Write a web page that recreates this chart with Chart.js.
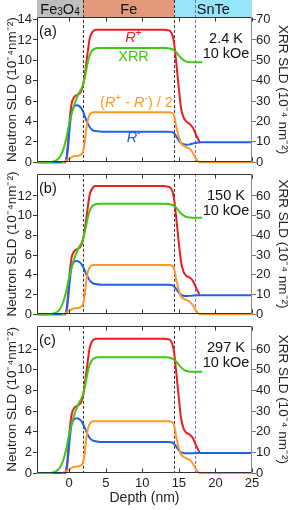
<!DOCTYPE html>
<html>
<head>
<meta charset="utf-8">
<script src="https://cdn.jsdelivr.net/npm/chart.js@4.4.1/dist/chart.umd.min.js"></script>
<style>
html, body { margin: 0; padding: 0; background: #fff; }
#wrap { position: relative; width: 293px; height: 510px; overflow: hidden; }
canvas { position: absolute; left: 0; }
</style>
</head>
<body>
<div id="wrap">
<canvas id="pa" width="293" height="171" style="top:0px"></canvas>
<canvas id="pb" width="293" height="158" style="top:165px"></canvas>
<canvas id="pc" width="293" height="193" style="top:317px"></canvas>
</div>
<script>
"use strict";

const FONT = '"Liberation Sans", Arial, Helvetica, sans-serif';
const RED = 'rgb(240, 28, 28)';
const GREEN = 'rgb(60, 200, 20)';
const BLUE = 'rgb(32, 96, 240)';
const ORANGE = 'rgb(255, 152, 40)';

// depth (nm) grids for each curve
const depthRp = [-4.4, -0.6, -0.3, -0.1, 0.1, 0.35, 0.7, 1.1, 1.5, 1.8, 2.1, 2.45, 2.8, 3.2, 3.6, 4.2,
                 13.0, 13.4, 13.9, 14.3, 14.65, 15.0, 15.3, 15.65, 16.0, 16.4, 16.9, 17.4, 17.85];
const depthRm = [-4.4, -0.5, -0.3, -0.1, 0.1, 0.3, 0.6, 1.0, 1.4, 1.75, 2.1, 2.4, 2.75, 3.2, 3.8, 4.5,
                 13.0, 13.6, 14.1, 14.5, 14.8, 15.1, 15.5, 16.0, 16.5, 17.0, 17.5, 18.0, 25];
const depthHalf = [-1.0, -0.5, 0, 0.5, 1.0, 1.5, 1.85, 2.1, 2.35, 2.6, 2.9, 3.3, 3.8,
                   13.6, 14.0, 14.35, 14.7, 15.0, 15.3, 15.7, 16.1, 16.6, 17.0, 17.3, 17.6, 17.9, 25];
const depthXrr = [-4.4, -2.6, -2.0, -1.3, -0.8, -0.35, 0, 0.55, 1.2, 1.9, 2.3, 2.6, 3.0, 3.4, 4.0,
                  13.2, 13.8, 14.5, 15.2, 15.9, 16.8, 18.2];

// (a) 2.4 K
const rPlusA = [0, 0, 0.8, 2.5, 4.4, 5.8, 6.4, 6.6, 6.8, 7.3, 8.4, 10.3, 12.1, 12.8, 13.0, 13.0,
                13.0, 12.95, 12.8, 11.9, 9.7, 7.2, 5.3, 4.4, 4.0, 3.8, 3.4, 2.6, 1.95];
const rMinusA = [0, 0, 0.6, 1.9, 3.6, 4.8, 5.4, 5.6, 5.5, 5.2, 4.6, 4.0, 3.5, 3.15, 3.05, 3.0,
                 3.0, 3.0, 2.95, 2.7, 2.35, 2.0, 1.8, 1.72, 1.75, 1.85, 1.92, 1.95, 1.95];
const halfA = [0, 0.1, 0.35, 0.55, 0.62, 0.7, 0.95, 1.8, 3.3, 4.3, 4.75, 4.9, 4.9,
               4.9, 4.85, 4.55, 3.3, 2.5, 1.85, 1.6, 1.45, 1.25, 0.8, 0.4, 0.12, 0, 0];
const xrrA = [0, 0, 0.5, 2.4, 6.3, 12.5, 18.8, 26.5, 33, 38, 44.5, 50, 54, 55.5, 56,
              56, 55.8, 54.5, 51.5, 49.5, 49, 49];

// (b) 150 K
const rPlusB = [0, 0, 0.8, 2.5, 4.4, 5.8, 6.4, 6.6, 6.8, 7.3, 8.4, 10.3, 12.1, 12.8, 13.0, 13.0,
                13.0, 12.95, 12.8, 11.9, 9.7, 7.2, 5.3, 4.3, 3.9, 3.75, 3.4, 2.6, 1.95];
const rMinusB = [0, 0, 0.6, 1.9, 3.5, 4.7, 5.25, 5.4, 5.3, 5.0, 4.5, 3.95, 3.5, 3.15, 3.05, 3.0,
                 3.0, 3.0, 2.95, 2.7, 2.4, 2.1, 1.9, 1.85, 1.86, 1.9, 1.93, 1.93, 1.93];
const halfB = [0, 0.1, 0.35, 0.55, 0.62, 0.7, 0.95, 1.8, 3.4, 4.4, 4.85, 5.0, 5.0,
               5.0, 4.95, 4.6, 3.3, 2.4, 1.8, 1.55, 1.4, 1.2, 0.8, 0.4, 0.12, 0, 0];
const xrrB = [0, 0, 0.5, 2.4, 6.3, 12.5, 18.8, 26.5, 33, 38, 44.5, 50, 54, 55.5, 56,
              56, 55.8, 54.5, 51.5, 49.5, 49, 49];

// (c) 297 K
const rPlusC = [0, 0, 0.8, 2.5, 4.4, 5.7, 6.3, 6.5, 6.7, 7.2, 8.4, 10.3, 12.1, 12.8, 13.0, 13.0,
                13.0, 12.95, 12.8, 11.9, 9.7, 7.2, 5.3, 4.3, 3.9, 3.75, 3.4, 2.6, 1.95];
const rMinusC = [0, 0, 0.6, 1.9, 3.5, 4.6, 5.15, 5.3, 5.2, 4.95, 4.45, 3.9, 3.45, 3.15, 3.05, 3.0,
                 3.0, 3.0, 2.95, 2.7, 2.4, 2.1, 1.95, 1.9, 1.9, 1.92, 1.93, 1.93, 1.93];
const halfC = [0, 0.1, 0.35, 0.55, 0.62, 0.7, 0.95, 1.8, 3.4, 4.4, 4.85, 5.0, 5.0,
               5.0, 4.95, 4.6, 3.3, 2.4, 1.8, 1.55, 1.4, 1.2, 0.8, 0.4, 0.12, 0, 0];
const xrrC = [0, 0, 0.5, 2.4, 6.3, 12.5, 18.8, 26.5, 33, 38, 44.5, 50, 54, 55.5, 56,
              56, 55.8, 54.5, 51.5, 49.5, 49, 49];

const xTicks = [0, 5, 10, 15, 20, 25];
const leftTicksTop = [0, 2, 4, 6, 8, 10, 12, 14];
const leftTicks = [0, 2, 4, 6, 8, 10, 12];
const rightTicksTop = [0, 10, 20, 30, 40, 50, 60, 70];
const rightTicks = [0, 10, 20, 30, 40, 50, 60];

const layerNames = [
    [{ t: 'Fe' }, { t: '3', sub: true }, { t: 'O' }, { t: '4', sub: true }],
    [{ t: 'Fe' }],
    [{ t: 'SnTe' }]
];
const layerColors = ['rgb(190, 190, 190)', 'rgb(229, 152, 124)', 'rgb(150, 228, 250)'];
const layerEdges = [1.9, 14.4];
const snteLine = 17.2;

const panelTags = ['(a)', '(b)', '(c)'];
const temps = ['2.4 K', '150 K', '297 K'];
const field = '10 kOe';

const curveLabels = [
    { segs: [{ t: 'R', it: true }, { t: '+', sup: true }], x: 8.8, y: 12.2, color: RED },
    { segs: [{ t: 'XRR' }], x: 8.8, y: 10.3, color: GREEN },
    { segs: [{ t: '(' }, { t: 'R', it: true }, { t: '+', sup: true }, { t: ' - ' }, { t: 'R', it: true },
             { t: '-', sup: true }, { t: ') / 2' }], x: 9.2, y: 5.8, color: ORANGE },
    { segs: [{ t: 'R', it: true }, { t: '-', sup: true }], x: 8.8, y: 2.35, color: BLUE }
];


function segFont(s) {
    const size = (s.sup || s.sub) ? 10 : 14.5;
    return (s.it ? 'italic ' : '') + size + 'px ' + FONT;
}

function drawRich(ctx, segs, cx, cy, color) {
    ctx.save();
    ctx.textBaseline = 'middle';
    ctx.textAlign = 'left';
    let w = 0;
    for (const s of segs) { ctx.font = segFont(s); w += ctx.measureText(s.t).width; }
    let x = cx - w / 2;
    ctx.fillStyle = color;
    for (const s of segs) {
        ctx.font = segFont(s);
        const dy = s.sup ? -5 : (s.sub ? 3 : 0);
        ctx.fillText(s.t, x, cy + dy);
        x += ctx.measureText(s.t).width;
    }
    ctx.restore();
}

function vline(ctx, x, y0, y1, color, dash) {
    ctx.save();
    ctx.strokeStyle = color;
    ctx.lineWidth = 1;
    ctx.setLineDash(dash);
    ctx.beginPath();
    ctx.moveTo(Math.round(x) + 0.5, y0);
    ctx.lineTo(Math.round(x) + 0.5, y1);
    ctx.stroke();
    ctx.restore();
}

const decor = {
    id: 'decor',
    beforeDraw(chart, args, opts) {
        if (!opts.band) return;
        const { ctx, chartArea: a, scales: { x } } = chart;
        const edges = [a.left, x.getPixelForValue(layerEdges[0]), x.getPixelForValue(layerEdges[1]), a.right];
        for (let i = 0; i < 3; i++) {
            ctx.fillStyle = layerColors[i];
            ctx.fillRect(edges[i], 0, edges[i + 1] - edges[i], a.top);
            drawRich(ctx, layerNames[i], (edges[i] + edges[i + 1]) / 2, a.top / 2 + 1, '#111');
        }
    },
    beforeDatasetsDraw(chart, args, opts) {
        const { ctx, chartArea: a, scales: { x } } = chart;
        const top = opts.band ? 0 : a.top;
        vline(ctx, x.getPixelForValue(layerEdges[0]), top, a.bottom, '#333', [3, 2]);
        vline(ctx, x.getPixelForValue(layerEdges[1]), top, a.bottom, '#333', [3, 2]);
        vline(ctx, x.getPixelForValue(snteLine), top, a.bottom, 'rgb(125, 90, 255)', [3, 2]);
    },
    afterDatasetsDraw(chart, args, opts) {
        if (!opts.labels) return;
        const { ctx, scales: { x, y } } = chart;
        for (const l of curveLabels) {
            drawRich(ctx, l.segs, x.getPixelForValue(l.x), y.getPixelForValue(l.y), l.color);
        }
    },
    afterDraw(chart, args, opts) {
        const { ctx, chartArea: a, scales: { x } } = chart;
        const L = Math.round(a.left) + 0.5, R = Math.round(a.right) - 0.5;
        const T = Math.round(a.top) + 0.5, B = Math.round(a.bottom) - 0.5;
        ctx.save();
        ctx.lineWidth = 1;
        ctx.strokeStyle = '#333';
        ctx.beginPath();
        ctx.moveTo(R, T); ctx.lineTo(L, T); ctx.lineTo(L, B); ctx.lineTo(R, B);
        for (const v of xTicks) {
            const px = Math.round(x.getPixelForValue(v)) + 0.5;
            ctx.moveTo(px, B); ctx.lineTo(px, B - 4);
            ctx.moveTo(px, T); ctx.lineTo(px, T + 4);
        }
        ctx.stroke();
        ctx.strokeStyle = '#888';
        ctx.beginPath();
        ctx.moveTo(R, T); ctx.lineTo(R, B);
        ctx.stroke();

        ctx.fillStyle = '#111';
        ctx.font = '14.5px ' + FONT;
        ctx.textBaseline = 'middle';
        ctx.textAlign = 'left';
        ctx.fillText(opts.tag, a.left + 2, a.top + 15);
        ctx.textAlign = 'center';
        ctx.fillText(opts.temp, a.right - 26, a.top + 22);
        ctx.fillText(field, a.right - 26, a.top + 37);
        ctx.restore();
    }
};

function line(xs, ys, color, axis) {
    return {
        data: xs.map((v, i) => ({ x: v, y: ys[i] })),
        borderColor: color,
        borderWidth: 2,
        pointRadius: 0,
        cubicInterpolationMode: 'monotone',
        yAxisID: axis,
        clip: false
    };
}

function setTicks(vals) {
    return scale => { scale.ticks = vals.map(v => ({ value: v })); };
}

function buildPanel(id, idx, rPlus, rMinus, half, xrr) {
    const first = idx === 0, last = idx === 2;
    return new Chart(document.getElementById(id), {
        type: 'line',
        data: {
            datasets: [
                line(depthHalf, half, ORANGE, 'y'),
                line(depthXrr, xrr, GREEN, 'y2'),
                line(depthRm, rMinus, BLUE, 'y'),
                line(depthRp, rPlus, RED, 'y')
            ]
        },
        options: {
            responsive: false,
            animation: false,
            events: [],
            layout: { padding: { top: first ? 17 : 4, bottom: last ? 0 : 2, left: 0, right: 0 } },
            plugins: {
                legend: { display: false },
                tooltip: { enabled: false },
                decor: { band: first, labels: first, tag: panelTags[idx], temp: temps[idx] }
            },
            scales: {
                x: {
                    type: 'linear',
                    min: -4.4,
                    max: 25,
                    display: last,
                    afterBuildTicks: setTicks(xTicks),
                    afterFit: s => { s.height = last ? 37 : 0; },
                    grid: { display: false, drawTicks: false },
                    border: { display: false },
                    ticks: { padding: 3, color: '#222', font: { family: FONT, size: 13 } },
                    title: {
                        display: true, text: 'Depth (nm)', color: '#222',
                        font: { family: FONT, size: 14 }, padding: { top: 0, bottom: 3 }
                    }
                },
                y: {
                    position: 'left',
                    min: 0,
                    max: 14.25,
                    afterBuildTicks: setTicks(first ? leftTicksTop : leftTicks),
                    afterFit: s => { s.width = 37; },
                    grid: { display: true, drawOnChartArea: false, drawTicks: true, tickLength: 4, color: '#333' },
                    border: { display: false },
                    ticks: { padding: 1, color: '#222', font: { family: FONT, size: 13 } },
                    title: {
                        display: true, text: 'Neutron SLD (10⁻⁴nm⁻²)', color: '#222',
                        font: { family: FONT, size: 13.5 }, padding: { top: 4, bottom: 0 }
                    }
                },
                y2: {
                    position: 'right',
                    min: 0,
                    max: 71.25,
                    afterBuildTicks: setTicks(first ? rightTicksTop : rightTicks),
                    afterFit: s => { s.width = 41; },
                    grid: { display: true, drawOnChartArea: false, drawTicks: true, tickLength: 4, color: '#777' },
                    border: { display: false },
                    ticks: { padding: 0, color: '#222', font: { family: FONT, size: 13 } },
                    title: {
                        display: true, text: 'XRR SLD (10⁻⁴ nm⁻²)', color: '#222',
                        font: { family: FONT, size: 13.5 }, padding: { top: 2, bottom: 0 }
                    }
                }
            }
        },
        plugins: [decor]
    });
}

buildPanel('pa', 0, rPlusA, rMinusA, halfA, xrrA);
buildPanel('pb', 1, rPlusB, rMinusB, halfB, xrrB);
buildPanel('pc', 2, rPlusC, rMinusC, halfC, xrrC);
</script>
</body>
</html>
